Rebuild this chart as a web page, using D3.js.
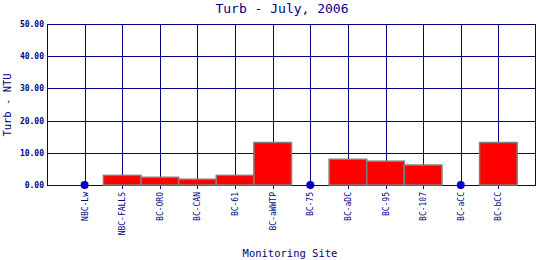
<!DOCTYPE html>
<html>
<head>
<meta charset="utf-8">
<script src="https://cdn.jsdelivr.net/npm/d3@7"></script>
<style>
  body { margin: 0; background: #fff; }
  text { font-family: "DejaVu Sans Mono", monospace; fill: #000080; }
</style>
</head>
<body>
<div id="chart"></div>
<script>
var sites = ["NBC-Lw", "NBC-FALLS", "BC-ORO", "BC-CAN", "BC-61", "BC-aWWTP",
             "BC-75", "BC-aDC", "BC-95", "BC-107", "BC-aCC", "BC-bCC"];
// null = no sample, drawn as a dot on zero
var turb = [null, 3.0, 2.4, 1.8, 3.0, 13.2, null, 8.0, 7.4, 6.2, null, 13.2];
var yTicks = [0, 10, 20, 30, 40, 50];

var margin = {top: 24, right: 4, bottom: 75, left: 47};
var width = 540 - margin.left - margin.right,
    height = 260 - margin.top - margin.bottom;

var step = width / (sites.length + 1);

var xScale = d3.scaleLinear()
    .domain([-1, sites.length]) // input
    .range([0, width]); // output

var yScale = d3.scaleLinear()
    .domain([0, 50])
    .range([height, 0]);

var svg = d3.select("#chart").append("svg")
    .attr("width", 540)
    .attr("height", 260);

svg.append("text")
    .attr("x", 282).attr("y", 13)
    .attr("text-anchor", "middle")
    .style("font-size", "13px")
    .text("Turb - July, 2006");

svg.append("text")
    .attr("transform", "translate(11,105) rotate(-90)")
    .attr("text-anchor", "middle")
    .style("font-size", "10.5px")
    .text("Turb - NTU");

svg.append("text")
    .attr("x", 290).attr("y", 257)
    .attr("text-anchor", "middle")
    .style("font-size", "10.5px")
    .text("Monitoring Site");

var g = svg.append("g")
    .attr("transform", "translate(" + margin.left + "," + margin.top + ")");

// grid
g.selectAll(".hgrid")
    .data(yTicks)
  .enter().append("line")
    .attr("x1", 0).attr("x2", width)
    .attr("y1", function(d) { return Math.round(yScale(d)) + 0.5; })
    .attr("y2", function(d) { return Math.round(yScale(d)) + 0.5; })
    .attr("stroke", "#000080");

g.selectAll(".vgrid")
    .data(sites)
  .enter().append("line")
    .attr("x1", function(d, i) { return Math.round(xScale(i)) + 0.5; })
    .attr("x2", function(d, i) { return Math.round(xScale(i)) + 0.5; })
    .attr("y1", 0).attr("y2", height + 4)
    .attr("stroke", "#000080");

g.append("rect")
    .attr("x", 0.5).attr("y", 0.5)
    .attr("width", width - 1).attr("height", height)
    .attr("fill", "none")
    .attr("stroke", "#000080");

// y tick labels
g.selectAll(".ylab")
    .data(yTicks)
  .enter().append("text")
    .attr("x", -3)
    .attr("y", function(d) { return yScale(d) + 3; })
    .attr("text-anchor", "end")
    .style("font-size", "8px")
    .style("font-weight", "bold")
    .text(function(d) { return d3.format(".2f")(d); });

// x tick labels
g.selectAll(".xlab")
    .data(sites)
  .enter().append("text")
    .attr("transform", function(d, i) {
      return "translate(" + (xScale(i) + 3) + "," + (height + 7) + ") rotate(-90)";
    })
    .attr("text-anchor", "end")
    .style("font-size", "8px")
    .text(function(d) { return d; });

// bars
var data = sites.map(function(s, i) { return {site: s, i: i, v: turb[i]}; });

g.selectAll(".bar")
    .data(data.filter(function(d) { return d.v !== null; }))
  .enter().append("rect")
    .attr("class", "bar")
    .attr("x", function(d) { return xScale(d.i) - step / 2; })
    .attr("y", function(d) { return yScale(d.v); })
    .attr("width", step)
    .attr("height", function(d) { return height - yScale(d.v); })
    .attr("fill", "#ff0000")
    .attr("stroke", "#808080")
    .attr("stroke-width", 1.5);

g.selectAll(".dot")
    .data(data.filter(function(d) { return d.v === null; }))
  .enter().append("circle")
    .attr("cx", function(d) { return xScale(d.i); })
    .attr("cy", yScale(0))
    .attr("r", 4)
    .attr("fill", "#0000cc");
</script>
</body>
</html>
